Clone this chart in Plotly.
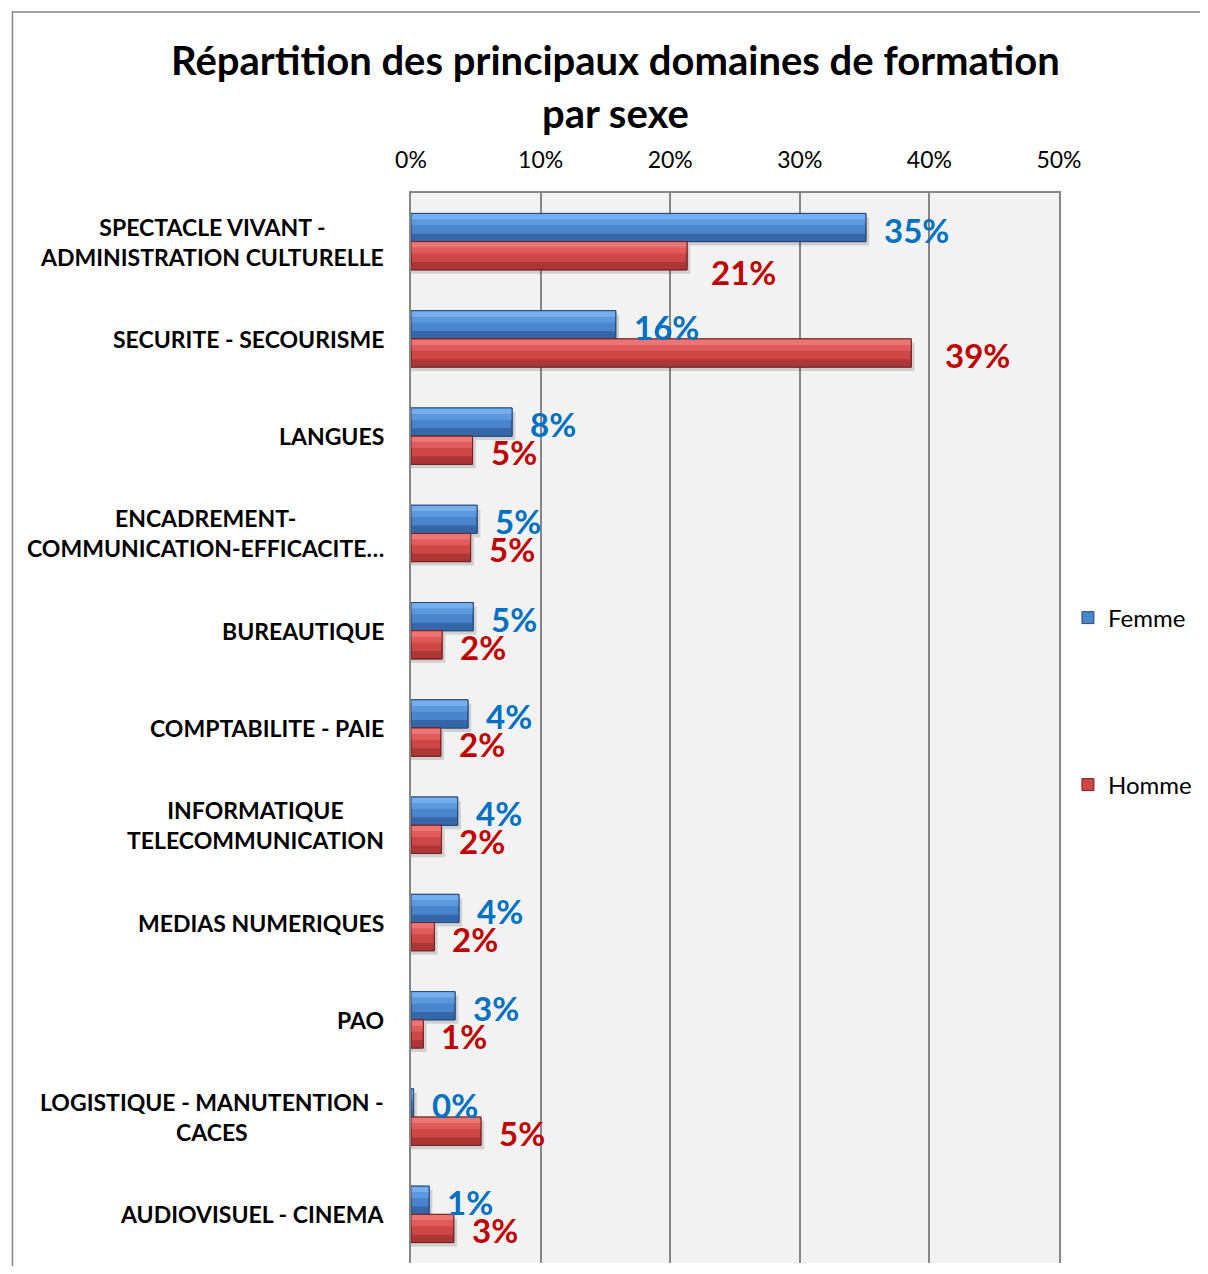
import plotly.graph_objects as go

# ---------------- data ----------------
categories = [
    "SPECTACLE VIVANT -<br>ADMINISTRATION CULTURELLE",
    "SECURITE - SECOURISME",
    "LANGUES",
    "ENCADREMENT-<br>COMMUNICATION-EFFICACITE…",
    "BUREAUTIQUE",
    "COMPTABILITE - PAIE",
    "INFORMATIQUE<br>TELECOMMUNICATION",
    "MEDIAS NUMERIQUES",
    "PAO",
    "LOGISTIQUE - MANUTENTION -<br>CACES",
    "AUDIOVISUEL - CINEMA",
]
femme = [35.1, 15.8, 7.8, 5.1, 4.8, 4.4, 3.6, 3.7, 3.4, 0.2, 1.4]
homme = [21.3, 38.6, 4.75, 4.6, 2.4, 2.3, 2.35, 1.8, 0.95, 5.4, 3.3]
x_ticks = [0, 10, 20, 30, 40, 50]
title_lines = ["Répartition des principaux domaines de formation", "par sexe"]

# ---------------- style ----------------
FONT = "Lato"
OFF = 8                       # page body margin
W, H = 1208 - 2 * OFF, 1274 - 2 * OFF
PL, PR, PT, PB = 411 - OFF, 1063 - OFF, 193 - OFF, 1263 - OFF   # plot area (figure px)
GRID = "#868686"
BW = 0.29  # bar thickness in category units

def px_x(p):  # reference page px -> paper
    return (p - OFF - PL) / (PR - PL)

def px_y(p):
    return (PB - (p - OFF)) / (PB - PT)

series = [
    dict(name="Femme", vals=femme, off=-BW, mid="#4A84CC", light="#74AEEC", light2="#5E98DC",
         dark="#3566A8", edge="#24497A", label="#0070C0", legend="legend", yshift=12),
    dict(name="Homme", vals=homme, off=0.0, mid="#CF4646", light="#EE7575", light2="#E05B5B",
         dark="#AC3535", edge="#722323", label="#C00000", legend="legend2", yshift=-16),
]
label_nudge = {("Homme", 0): (22, -30), ("Homme", 1): (32, -16)}

ypos = list(range(len(categories)))
fig = go.Figure()

# shadows
for s in series:
    fig.add_trace(go.Bar(
        y=ypos, x=[v + 0.25 for v in s["vals"]], orientation="h",
        offset=s["off"] + 0.04, width=BW, base=0,
        marker=dict(color="rgba(0,0,0,0.14)", line=dict(width=0)),
        showlegend=False, hoverinfo="skip"))

for s in series:
    fig.add_trace(go.Bar(
        y=ypos, x=s["vals"], orientation="h", name=s["name"],
        offset=s["off"], width=BW,
        marker=dict(color=s["mid"], line=dict(color=s["edge"], width=1)),
        legend=s["legend"]))
    for o, w, col in [(0.0, 0.22, s["light"]), (0.22, 0.2, s["light2"]), (0.72, 0.28, s["dark"])]:
        fig.add_trace(go.Bar(
            y=ypos, x=s["vals"], orientation="h", offset=s["off"] + BW * o, width=BW * w,
            marker=dict(color=col, line=dict(width=0)),
            showlegend=False, hoverinfo="skip"))
    fig.add_trace(go.Bar(
        y=ypos, x=s["vals"], orientation="h", offset=s["off"], width=BW,
        marker=dict(color="rgba(0,0,0,0)", line=dict(color=s["edge"], width=1)),
        showlegend=False, hoverinfo="skip"))

annotations = []
for s in series:
    for i, v in enumerate(s["vals"]):
        xs, ys = label_nudge.get((s["name"], i), (16, s["yshift"]))
        annotations.append(dict(
            x=v, y=i, xref="x", yref="y", text=f"{v:.0f}%", showarrow=False,
            xanchor="left", yanchor="middle", xshift=xs, yshift=ys,
            font=dict(family=FONT, size=33, color=s["label"], weight="bold")))

for i, c in enumerate(categories):
    annotations.append(dict(
        x=0, y=i, xref="paper", yref="y", text=c, showarrow=False,
        xanchor="right", yanchor="middle", align="center", xshift=-25,
        font=dict(family=FONT, size=23, color="black", weight="bold")))

for k, t in enumerate(title_lines):
    annotations.append(dict(
        x=px_x(617), y=px_y([60, 113][k]), xref="paper", yref="paper", text=t,
        showarrow=False, xanchor="center", yanchor="middle",
        font=dict(family=FONT, size=40, color="black", weight="bold")))

fig.update_layout(
    width=W, height=H,
    margin=dict(l=PL, r=W - PR, t=PT, b=H - PB, pad=0),
    paper_bgcolor="white", plot_bgcolor="#F2F2F2",
    barmode="overlay",
    font=dict(family=FONT, color="black"),
    annotations=annotations,
    shapes=[dict(type="rect", xref="paper", yref="paper",
                 x0=px_x(10), x1=px_x(1240), y0=px_y(1320), y1=px_y(12),
                 line=dict(color=GRID, width=1.5), fillcolor="rgba(0,0,0,0)", layer="below")],
    xaxis=dict(range=[0, 50], side="top", tickvals=x_ticks,
               ticktext=[f"{t}%" for t in x_ticks], showgrid=True, gridcolor=GRID,
               gridwidth=1.5, zeroline=False, showline=True, linecolor=GRID, linewidth=2,
               ticks="", ticklabelstandoff=14, tickfont=dict(family=FONT, size=23, color="black")),
    yaxis=dict(range=[len(categories) - 0.5, -0.5], showticklabels=False, ticks="",
               showgrid=False, zeroline=False, showline=True, linecolor=GRID, linewidth=2,
               mirror=True, tickvals=ypos),
    legend=dict(x=px_x(1072), y=px_y(618), xanchor="left", yanchor="middle",
                bgcolor="rgba(0,0,0,0)", font=dict(family=FONT, size=24, color="black")),
    legend2=dict(x=px_x(1072), y=px_y(785), xanchor="left", yanchor="middle",
                 bgcolor="rgba(0,0,0,0)", font=dict(family=FONT, size=24, color="black")),
)

fig.write_html("out.html")
